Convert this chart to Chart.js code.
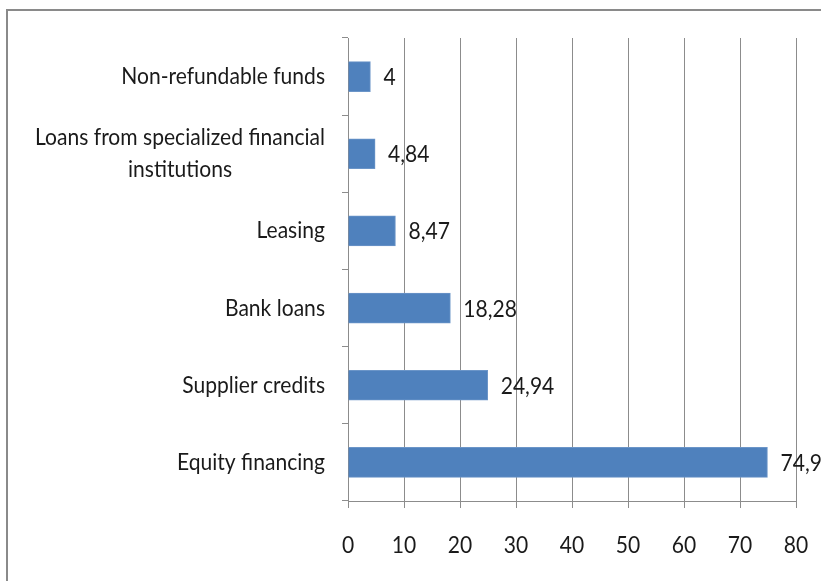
<!DOCTYPE html>
<html>
<head>
<meta charset="utf-8">
<script src="https://cdn.jsdelivr.net/npm/chart.js@4/dist/chart.umd.min.js"></script>
<style>
  html, body { margin: 0; padding: 0; background: #fff; overflow: hidden; }
  #wrap { position: relative; width: 821px; height: 581px; }
  #frame { position: absolute; left: 6px; top: 9px; width: 900px; height: 700px; border: 2px solid #8a8a8a; }
  canvas { position: absolute; left: 0; top: 0; }
</style>
</head>
<body>
<div id="wrap">
  <div id="frame"></div>
  <canvas id="chart" width="821" height="581"></canvas>
</div>
<script>
const categories = [
    ['Non-refundable funds'],
    ['Loans from specialized financial', 'institutions'],
    ['Leasing'],
    ['Bank loans'],
    ['Supplier credits'],
    ['Equity financing']
];
const shares = [4, 4.84, 8.47, 18.28, 24.94, 74.9];
const xTicks = [0, 10, 20, 30, 40, 50, 60, 70, 80];

const FONT = "Lato, 'DejaVu Sans Condensed', sans-serif";
const FONT_SIZE = 23.5;
const GRID = '#8c8c8c';
const TEXT = '#1a1a1a';

// the source text is narrow and tall (stretched Calibri), squeeze it sideways
let squeeze = 1;

function drawText(ctx, txt, x, y, align) {
    ctx.save();
    ctx.translate(x, y);
    ctx.scale(squeeze, 1);
    ctx.textAlign = align;
    ctx.fillText(txt, 0, 0);
    ctx.restore();
}

const labelPlugin = {
    id: 'labelPlugin',
    afterDatasetsDraw(chart) {
        const ctx = chart.ctx;
        const xScale = chart.scales.x;
        const yScale = chart.scales.y;
        const meta = chart.getDatasetMeta(0);
        ctx.save();
        ctx.font = FONT_SIZE + 'px ' + FONT;
        ctx.fillStyle = TEXT;
        ctx.textBaseline = 'middle';
        squeeze = 290 / ctx.measureText(categories[1][0]).width;

        // category labels: block right aligned, lines centred inside it
        categories.forEach((lines, i) => {
            const cy = yScale.getPixelForValue(i);
            const right = 325;
            const widest = Math.max(...lines.map(l => ctx.measureText(l).width)) * squeeze;
            const mid = right - widest / 2;
            const lh = 32;
            lines.forEach((l, k) => {
                drawText(ctx, l, mid, cy + (k - (lines.length - 1) / 2) * lh, 'center');
            });
        });

        // x tick labels
        xTicks.forEach(v => {
            drawText(ctx, String(v), xScale.getPixelForValue(v), 545, 'center');
        });

        // value labels
        meta.data.forEach((bar, i) => {
            const txt = String(shares[i]).replace('.', ',');
            drawText(ctx, txt, bar.x + 13, bar.y + 1, 'left');
        });
        ctx.restore();
    }
};

new Chart(document.getElementById('chart'), {
    type: 'bar',
    data: {
        labels: categories.map(c => c.join(' ')),
        datasets: [{
            data: shares,
            backgroundColor: '#4f81bd',
            borderColor: '#6b95c8',
            borderWidth: 1,
            barThickness: 30
        }]
    },
    options: {
        indexAxis: 'y',
        responsive: false,
        animation: false,
        devicePixelRatio: 1,
        layout: { padding: { top: 38, right: 25, left: 0, bottom: 0 } },
        plugins: {
            legend: { display: false },
            tooltip: { enabled: false }
        },
        scales: {
            x: {
                min: 0,
                max: 80,
                afterBuildTicks: (s) => { s.ticks = xTicks.map(v => ({ value: v })); },
                afterFit: (s) => { s.height = 80; },
                grid: { color: GRID, tickColor: GRID, tickLength: 7, lineWidth: 1 },
                border: { color: GRID, width: 1 },
                ticks: { display: false }
            },
            y: {
                afterFit: (s) => { s.width = 348; },
                grid: {
                    offset: true,
                    drawOnChartArea: false,
                    color: GRID,
                    tickColor: GRID,
                    tickLength: 6
                },
                border: { color: GRID, width: 1 },
                ticks: { display: false }
            }
        }
    },
    plugins: [labelPlugin]
});
</script>
</body>
</html>
